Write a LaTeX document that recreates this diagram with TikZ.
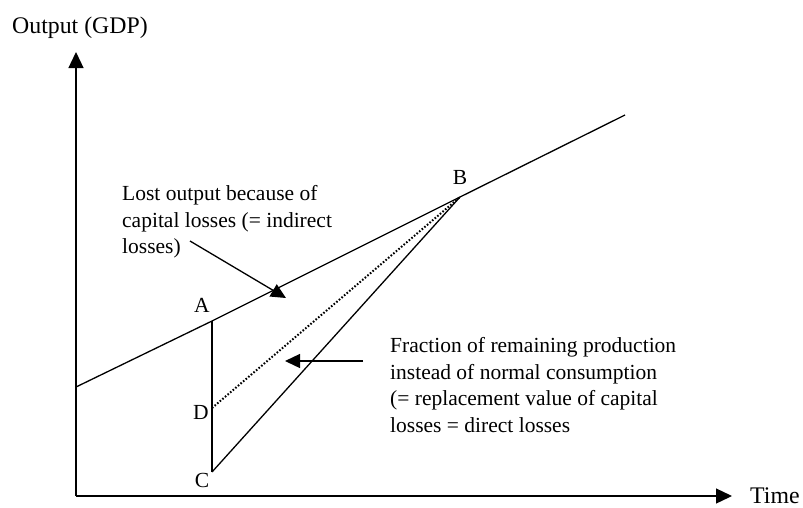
\documentclass[tikz,border=0pt]{standalone}
\usepackage{fontspec}
\setmainfont{Liberation Serif}
\usetikzlibrary{arrows.meta}
\begin{document}
\begin{tikzpicture}[x=1pt,y=-1pt,
  every node/.style={inner sep=0pt, font=\fontsize{21.5}{26.7}\selectfont},
  axislabel/.style={font=\fontsize{23.8}{28}\selectfont},
  ln/.style={line width=1.3pt, black},
  axis/.style={ln, -{Triangle[length=16pt,width=15pt]}},
  callout/.style={ln, -{Triangle[length=15pt,width=14pt]}},
  dotline/.style={line width=2pt, dash pattern=on 1.6pt off 1.8pt}]
\useasboundingbox (0,0) rectangle (803,507);
% axes
\coordinate (O) at (76,496);
\coordinate (Ytop) at (76,52);
\coordinate (Xend) at (732,496);
\draw[axis] (O) -- (Ytop);
\draw[axis] (O) -- (Xend);
\node[axislabel, anchor=base west] (ylab) at (12,33) {Output (GDP)};
\node[axislabel, anchor=base west] (xlab) at (750,503) {Time};
% points
\coordinate (P0) at (76,387);
\coordinate (pA) at (212,321);
\coordinate (pB) at (460,197);
\coordinate (pC) at (212,472);
\coordinate (pD) at (212,408);
\coordinate (P1) at (625,115);
% main lines
\draw[ln] (P0) -- (pA) -- (pB) -- (P1);
\draw[ln] (pA) -- (pC);
\draw[ln] (pC) -- (pB);
\draw[dotline] (pD) -- (pB);
% labels
\node (lA) at (202,305) {A};
\node (lB) at (460,177) {B};
\node (lC) at (202,480) {C};
\node (lD) at (201,412) {D};
% callouts
\node[anchor=north west, align=left] (t1) at (122,185) {Lost output because of\\capital losses (= indirect\\losses)};
\node[anchor=north west, align=left] (t2) at (390,337) {Fraction of remaining production\\instead of normal consumption\\(= replacement value of capital\\losses = direct losses};
\coordinate (a1s) at (190,241);
\coordinate (a1e) at (286,298);
\coordinate (a2s) at (363,361);
\coordinate (a2e) at (285,361);
\draw[callout] (a1s) -- (a1e);
\draw[callout] (a2s) -- (a2e);
\end{tikzpicture}
\end{document}
